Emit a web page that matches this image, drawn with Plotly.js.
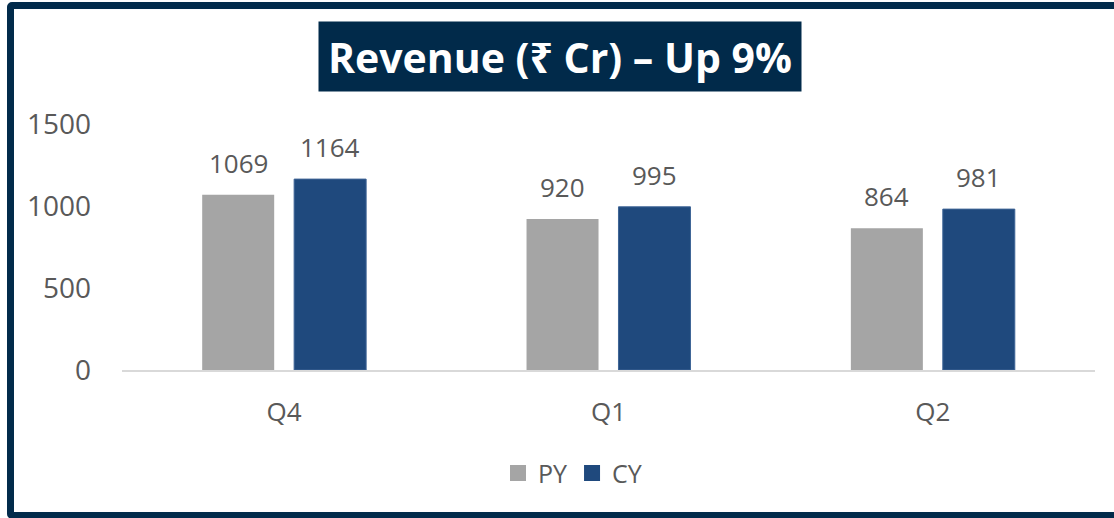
<!DOCTYPE html>
<html>
<head>
<meta charset="utf-8">
<script src="https://cdn.plot.ly/plotly-3.0.1.min.js"></script>
<style>
  html, body { margin: 0; padding: 0; background: #ffffff; overflow: hidden; }
  #frame { position: absolute; left: 7px; top: 2px; width: 1120px; height: 503px;
           border: 7px solid #022B4B; border-radius: 5px; background: #ffffff; }
  #chart { position: absolute; left: 0; top: 0; width: 1114px; height: 518px; }
</style>
</head>
<body>
<div id="frame"></div>
<div id="chart"></div>
<script>
const categories = ["Q4", "Q1", "Q2"];
const pyValues = [1069, 920, 864];
const cyValues = [1164, 995, 981];
const seriesNames = ["PY", "CY"];
const seriesColors = ["#A5A5A5", "#1F497D"];
const titleText = "Revenue (₹ Cr) – Up 9%";
const yTicks = [0, 500, 1000, 1500];

const FAM = "Open Sans, Noto Sans, sans-serif";
const GREY = "#595959";

const traces = [
  { type: "bar", name: seriesNames[0], x: categories, y: pyValues, showlegend: false,
    marker: { color: seriesColors[0] } },
  { type: "bar", name: seriesNames[1], x: categories, y: cyValues, showlegend: false,
    marker: { color: seriesColors[1], line: { color: "#3E6496", width: 1 } } },
  // legend entries
  { type: "scatter", mode: "markers", name: seriesNames[0], x: [null], y: [null],
    marker: { symbol: "square", size: 16, color: seriesColors[0] }, hoverinfo: "skip" },
  { type: "scatter", mode: "markers", name: seriesNames[1], x: [null], y: [null],
    marker: { symbol: "square", size: 16, color: seriesColors[1] }, hoverinfo: "skip" }
];

// value labels above bars, derived from the series arrays
const labelAnns = [];
[pyValues, cyValues].forEach((vals, s) => {
  vals.forEach((v, i) => {
    labelAnns.push({
      xref: "x", yref: "y", x: categories[i], y: v, xshift: s === 0 ? -46 : 46,
      yanchor: "bottom", yshift: 12, text: String(v), showarrow: false,
      font: { family: FAM, size: 26, color: GREY }
    });
  });
});

const layout = {
  width: 1114, height: 518,
  margin: { l: 122, r: 19, t: 124, b: 148 },
  paper_bgcolor: "rgba(0,0,0,0)", plot_bgcolor: "rgba(0,0,0,0)",
  barmode: "group", bargap: 0.433, bargroupgap: 0.217,
  font: { family: FAM, size: 26, color: GREY },
  showlegend: true,
  legend: { orientation: "h", x: 0.463, xanchor: "center", y: -0.42, yanchor: "middle",
            font: { family: FAM, size: 25, color: GREY }, itemwidth: 30, tracegroupgap: 0 },
  xaxis: { showline: true, linecolor: "#D9D9D9", linewidth: 2, showgrid: false,
           zeroline: false, ticks: "", tickfont: { family: FAM, size: 26, color: GREY },
           ticklabelstandoff: 18 },
  yaxis: { range: [0, 1500], tickvals: yTicks, showgrid: false, zeroline: false,
           showline: false, ticks: "", tickfont: { family: FAM, size: 28, color: GREY },
           ticklabelstandoff: 30 },
  annotations: labelAnns.concat([{
    xref: "paper", yref: "paper", x: 0.45, y: 1.274, xanchor: "center", yanchor: "middle",
    text: "<b>" + titleText + "</b>", showarrow: false,
    font: { family: FAM, size: 41, color: "#ffffff" },
    bgcolor: "#012A4A", width: 482, height: 69, borderpad: 0
  }])
};

Plotly.newPlot("chart", traces, layout, { displayModeBar: false, staticPlot: true });
</script>
</body>
</html>
